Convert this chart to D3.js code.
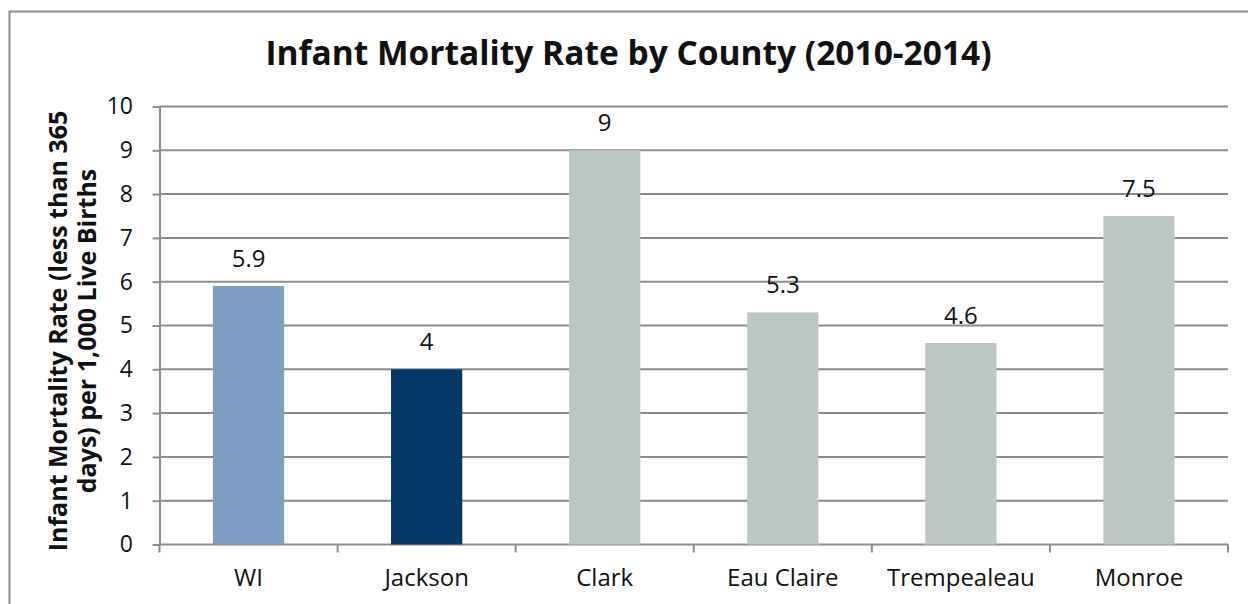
<!DOCTYPE html>
<html lang="en">
    <head>
        <meta charset="utf-8">
        <title>Infant Mortality Rate by County</title>
        <script src="https://d3js.org/d3.v7.min.js"></script>
        <style>
            body { margin: 0; background: #fff; overflow: hidden; }
            text { font-family: "Open Sans", Lato, sans-serif; fill: #111; }
            .tick line, .domain { stroke: #8c8c8c; stroke-width: 2px; }
        </style>
    </head>
    <body>
        <script type="text/javascript">

            var categories = ["WI", "Jackson", "Clark", "Eau Claire", "Trempealeau", "Monroe"];
            var rates = [5.9, 4, 9, 5.3, 4.6, 7.5];
            var barColors = ["#7f9cc2", "#033866", "#bcc7c3", "#bcc7c3", "#bcc7c3", "#bcc7c3"];
            var yTicks = [0, 1, 2, 3, 4, 5, 6, 7, 8, 9, 10];
            var titleText = "Infant Mortality Rate by County (2010-2014)";
            var yLabelLines = ["Infant Mortality Rate (less than 365", "days) per 1,000 Live Births"];

            var outerWidth = 1248,
                outerHeight = 604;
            var margin = { left: 159.5, top: 106.5, right: 20, bottom: 59.5 };
            var innerWidth = outerWidth - margin.left - margin.right;
            var innerHeight = outerHeight - margin.top - margin.bottom;

            var data = categories.map((c, i) => ({ county: c, rate: rates[i], color: barColors[i] }));

            var svg = d3.select("body")
                .append("svg")
                .attr("width", outerWidth)
                .attr("height", outerHeight)
                .style("display", "block");

            // chart frame (only left and top edges fall inside the picture)
            svg.append("path")
                .attr("d", "M9.5,604V11.5H1248")
                .attr("fill", "none")
                .attr("stroke", "#8c8c8c")
                .attr("stroke-width", 2);

            svg.append("text")
                .attr("x", 628.5).attr("y", 65)
                .attr("text-anchor", "middle")
                .style("font-size", "33.5px")
                .style("font-weight", "bold")
                .text(titleText);

            var g = svg.append("g")
                .attr("transform", `translate(${margin.left},${margin.top})`);

            var xScale = d3.scaleBand()
                .domain(categories)
                .range([0, innerWidth])
                .paddingInner(0.6)
                .paddingOuter(0.3);

            var yScale = d3.scaleLinear()
                .domain([0, 10])
                .range([innerHeight, 0]);

            // gridlines
            g.selectAll(".grid")
                .data(yTicks)
                .enter().append("line")
                .attr("class", "grid")
                .attr("x1", 0).attr("x2", innerWidth)
                .attr("y1", d => yScale(d)).attr("y2", d => yScale(d))
                .attr("stroke", "#8c8c8c")
                .attr("stroke-width", 2);

            var yAxis = g.append("g")
                .call(d3.axisLeft(yScale).tickValues(yTicks).tickSize(7).tickSizeOuter(0).tickPadding(19.5));
            yAxis.selectAll(".tick text").style("font-size", "23px").style("fill", "#111");

            // x axis: labels centered on bars, ticks at category boundaries
            var xAxis = g.append("g")
                .attr("transform", `translate(0,${innerHeight})`)
                .call(d3.axisBottom(xScale).tickSize(0).tickPadding(24));
            xAxis.select(".domain").remove();
            xAxis.selectAll(".tick text").style("font-size", "24px").style("fill", "#111");

            var bounds = categories.map(c => xScale(c) - xScale.step() * xScale.paddingOuter());
            bounds.push(innerWidth);
            g.selectAll(".xtick")
                .data(bounds)
                .enter().append("line")
                .attr("x1", d => d).attr("x2", d => d)
                .attr("y1", innerHeight).attr("y2", innerHeight + 8)
                .attr("stroke", "#8c8c8c")
                .attr("stroke-width", 2);

            g.selectAll(".bar")
                .data(data)
                .enter().append("rect")
                .attr("class", "bar")
                .attr("x", d => xScale(d.county))
                .attr("width", xScale.bandwidth())
                .attr("y", d => yScale(d.rate))
                .attr("height", d => innerHeight - yScale(d.rate))
                .attr("fill", d => d.color);

            g.selectAll(".value")
                .data(data)
                .enter().append("text")
                .attr("class", "value")
                .attr("x", d => xScale(d.county) + xScale.bandwidth() / 2)
                .attr("y", d => yScale(d.rate) - 19)
                .attr("text-anchor", "middle")
                .style("font-size", "24px")
                .text(d => d.rate);

            // rotated two-line axis title
            var yLabelX = [67, 96];
            yLabelLines.forEach((line, i) => {
                svg.append("text")
                    .attr("transform", `translate(${yLabelX[i]},331) rotate(-90)`)
                    .attr("text-anchor", "middle")
                    .style("font-size", "25px")
                    .style("font-weight", "bold")
                    .text(line);
            });

        </script>
    </body>
</html>
